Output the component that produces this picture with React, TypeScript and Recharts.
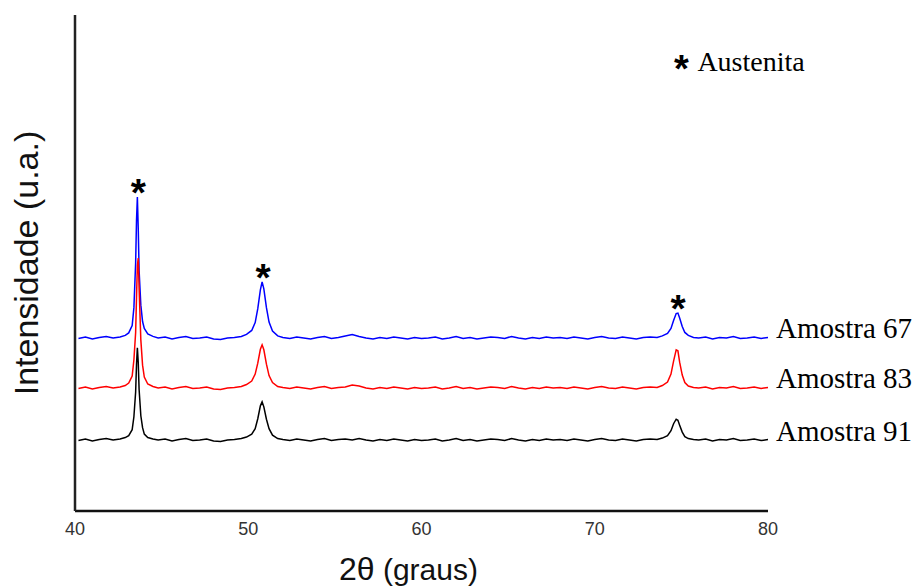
import { LineChart, Line, XAxis, YAxis, ReferenceDot, Label } from "recharts"

// 2θ positions (degrees), denser around the three austenite peaks
const twoTheta = [
  40.2, 40.6, 41.0, 41.4, 41.8, 42.2, 42.6, 42.9, 43.1, 43.3,
  43.4, 43.5, 43.55, 43.6, 43.65, 43.7, 43.8, 43.9, 44.0, 44.2,
  44.5, 44.8,
  45.2, 45.6, 46.0, 46.4, 46.8, 47.2, 47.6, 48.0, 48.4, 48.8,
  49.2, 49.6, 49.9, 50.2, 50.4, 50.55, 50.7, 50.8, 50.9, 51.05,
  51.2, 51.4, 51.7, 52.0,
  52.4, 52.8, 53.2, 53.6, 54.0, 54.4, 54.8, 55.2, 55.6, 56.0,
  56.4, 56.8, 57.2, 57.6, 58.0, 58.4, 58.8, 59.2, 59.6, 60.0,
  60.4, 60.8, 61.2, 61.6, 62.0, 62.4, 62.8, 63.2, 63.6, 64.0,
  64.4, 64.8, 65.2, 65.6, 66.0, 66.4, 66.8, 67.2, 67.6, 68.0,
  68.4, 68.8, 69.2, 69.6, 70.0, 70.4, 70.8, 71.2, 71.6, 72.0,
  72.4, 72.8, 73.2, 73.6, 73.9, 74.2, 74.4, 74.55, 74.7, 74.8,
  74.9, 75.05, 75.2, 75.4, 75.7, 76.0,
  76.4, 76.8, 77.2, 77.6, 78.0, 78.4, 78.8, 79.2, 79.6, 80.0,
]

// intensities (a.u., offset for each sample)
const amostra67 = [
  34.8, 35.1, 34.7, 35.0, 35.2, 34.9, 35.1, 35.4, 35.9, 37.4,
  41.0, 50.0, 58.5, 63.3, 57.0, 48.5, 41.5, 38.2, 36.8, 35.7,
  35.2, 34.9,
  35.1, 34.7, 35.0, 35.2, 34.8, 34.9, 35.1, 34.7, 34.6, 34.9,
  35.0, 35.2, 35.6, 36.4, 38.0, 40.8, 44.6, 46.2, 44.8, 41.0,
  38.1, 36.3, 35.3, 35.0,
  34.8, 35.1, 34.9, 34.7, 35.0, 35.2, 34.8, 35.0, 35.3, 35.6,
  35.2, 34.9, 34.7, 35.0, 34.8, 35.1, 34.9, 34.7, 35.0, 34.8,
  34.9, 35.1, 34.7, 34.9, 35.2, 34.8, 35.0, 34.7, 34.9, 35.1,
  35.0, 34.8, 35.2, 34.9, 34.7, 35.0, 34.8, 35.1, 34.9, 35.0,
  34.8, 35.1, 34.9, 34.7, 35.0, 35.2, 34.9, 34.8, 35.1, 34.9,
  34.7, 35.0, 35.1, 35.0, 35.3, 35.8, 36.8, 38.4, 39.8, 39.9,
  38.9, 37.2, 36.0, 35.4, 35.0, 34.9,
  35.1, 34.7, 35.0, 34.9, 35.2, 34.8, 34.9, 35.1, 34.8, 35.0,
]

const amostra83 = [
  24.7, 25.0, 24.6, 24.9, 25.1, 24.8, 25.0, 25.3, 25.8, 27.2,
  30.5, 36.0, 43.0, 49.5, 51.0, 45.0, 34.5, 29.4, 27.0, 25.6,
  25.1, 24.8,
  25.0, 24.6, 24.9, 25.1, 24.7, 24.8, 25.0, 24.6, 24.5, 24.8,
  24.9, 25.1, 25.5, 26.2, 27.6, 29.8, 32.6, 33.5, 32.5, 29.6,
  27.3, 25.9, 25.1, 24.9,
  24.7, 25.0, 24.8, 24.6, 24.9, 25.1, 24.7, 24.9, 25.0, 25.4,
  25.2, 24.8, 24.6, 24.9, 24.7, 25.0, 24.8, 24.6, 24.9, 24.7,
  24.8, 25.0, 24.6, 24.8, 25.1, 24.7, 24.9, 24.6, 24.8, 25.0,
  24.9, 24.7, 25.1, 24.8, 24.6, 24.9, 24.7, 25.0, 24.8, 24.9,
  24.7, 25.0, 24.8, 24.6, 24.9, 25.1, 24.8, 24.7, 25.0, 24.8,
  24.6, 24.9, 25.0, 24.9, 25.3, 26.0, 27.6, 30.2, 32.5, 32.3,
  30.0, 27.4, 25.9, 25.2, 24.9, 24.8,
  25.0, 24.6, 24.9, 24.8, 25.1, 24.7, 24.8, 25.0, 24.7, 24.9,
]

const amostra91 = [
  14.2, 14.5, 14.1, 14.4, 14.6, 14.3, 14.5, 14.8, 15.2, 16.4,
  19.0, 24.0, 29.5, 32.9, 30.0, 24.5, 19.2, 16.8, 15.5, 14.8,
  14.5, 14.3,
  14.5, 14.1, 14.4, 14.6, 14.2, 14.3, 14.5, 14.1, 14.0, 14.3,
  14.4, 14.6, 14.9, 15.5, 16.6, 18.6, 21.2, 22.0, 21.0, 18.5,
  16.6, 15.3, 14.6, 14.4,
  14.2, 14.5, 14.3, 14.1, 14.4, 14.6, 14.2, 14.4, 14.5, 14.3,
  14.6, 14.3, 14.1, 14.4, 14.2, 14.5, 14.3, 14.1, 14.4, 14.2,
  14.3, 14.5, 14.1, 14.3, 14.6, 14.2, 14.4, 14.1, 14.3, 14.5,
  14.4, 14.2, 14.6, 14.3, 14.1, 14.4, 14.2, 14.5, 14.3, 14.4,
  14.2, 14.5, 14.3, 14.1, 14.4, 14.6, 14.3, 14.2, 14.5, 14.3,
  14.1, 14.4, 14.5, 14.4, 14.7, 15.2, 16.2, 17.6, 18.5, 18.3,
  17.3, 15.9, 15.0, 14.6, 14.4, 14.3,
  14.5, 14.1, 14.4, 14.3, 14.6, 14.2, 14.3, 14.5, 14.2, 14.4,
]

const xTicks = [40, 50, 60, 70, 80]
const peakAngles = [43.6, 50.8, 74.75]
const series = [
  { key: "a67", name: "Amostra 67", values: amostra67, color: "#0000ff" },
  { key: "a83", name: "Amostra 83", values: amostra83, color: "#ff0000" },
  { key: "a91", name: "Amostra 91", values: amostra91, color: "#000000" },
]

const rows = twoTheta.map((x, i) => ({
  x,
  a67: amostra67[i],
  a83: amostra83[i],
  a91: amostra91[i],
}))

const peakTop = (p: number) =>
  Math.max(...twoTheta.map((t, i) => (Math.abs(t - p) < 0.3 ? amostra67[i] : -Infinity)))

const SANS = "Liberation Sans, Arial, sans-serif"
const SERIF = "Liberation Serif, Times New Roman, serif"

const XTitle = (props: any) => {
  const vb = props.viewBox
  return (
    <text x={vb.x + vb.width / 2 - 13} y={580} textAnchor="middle" fontFamily={SANS} fill="#111">
      <tspan fontSize={32}>2θ</tspan>
      <tspan fontSize={30}> (graus)</tspan>
    </text>
  )
}

const YTitle = (props: any) => {
  const vb = props.viewBox
  const cy = vb.y + vb.height / 2
  return (
    <text x={38} y={cy} transform={`rotate(-90, 38, ${cy})`} textAnchor="middle"
      fontFamily={SANS} fontSize={34} fill="#111">
      Intensidade (u.a.)
    </text>
  )
}

export default function App() {
  return (
    <div style={{ position: "absolute", left: 0, top: 0 }}>
      <LineChart width={923} height={587} data={rows}
        margin={{ top: 15, right: 155, bottom: 0, left: 74 }}>
        <XAxis dataKey="x" type="number" domain={[40, 80]} ticks={xTicks}
          tickLine={false} height={76} tickMargin={5}
          axisLine={{ stroke: "#111", strokeWidth: 2.5 }}
          tick={{ fontSize: 18, fill: "#333", fontFamily: SANS }}
          label={<Label content={XTitle} />} />
        <YAxis type="number" domain={[0, 100]} width={1} tick={false} tickLine={false}
          axisLine={{ stroke: "#222", strokeWidth: 2.5 }}
          label={<Label content={YTitle} />} />
        {series.map(s => (
          <Line key={s.key} dataKey={s.key} type="linear" stroke={s.color}
            strokeWidth={1.5} dot={false} isAnimationActive={false} />
        ))}
        {peakAngles.map(p => (
          <ReferenceDot key={p} x={p} y={peakTop(p)} r={0} ifOverflow="visible"
            shape={(d: any) => (
              <text x={d.cx + 1} y={d.cy + 9} textAnchor="middle" fontSize={39}
                fontWeight="bold" fontFamily={SANS} fill="#000">*</text>
            )} />
        ))}
        {series.map(s => (
          <ReferenceDot key={"lbl" + s.key} x={80} y={s.values[s.values.length - 1]} r={0}
            ifOverflow="visible"
            shape={(d: any) => (
              <text x={d.cx + 8} y={d.cy + 1} fontSize={29} fontFamily={SERIF} fill="#000">
                {s.name}
              </text>
            )} />
        ))}
        <ReferenceDot x={75} y={88.7} r={0} ifOverflow="visible"
          shape={(d: any) => (
            <g>
              <text x={d.cx} y={d.cy + 11} textAnchor="middle" fontSize={38}
                fontWeight="bold" fontFamily={SANS} fill="#000">*</text>
              <text x={d.cx + 16} y={d.cy} fontSize={28} fontFamily={SERIF} fill="#000">
                Austenita
              </text>
            </g>
          )} />
      </LineChart>
    </div>
  )
}
